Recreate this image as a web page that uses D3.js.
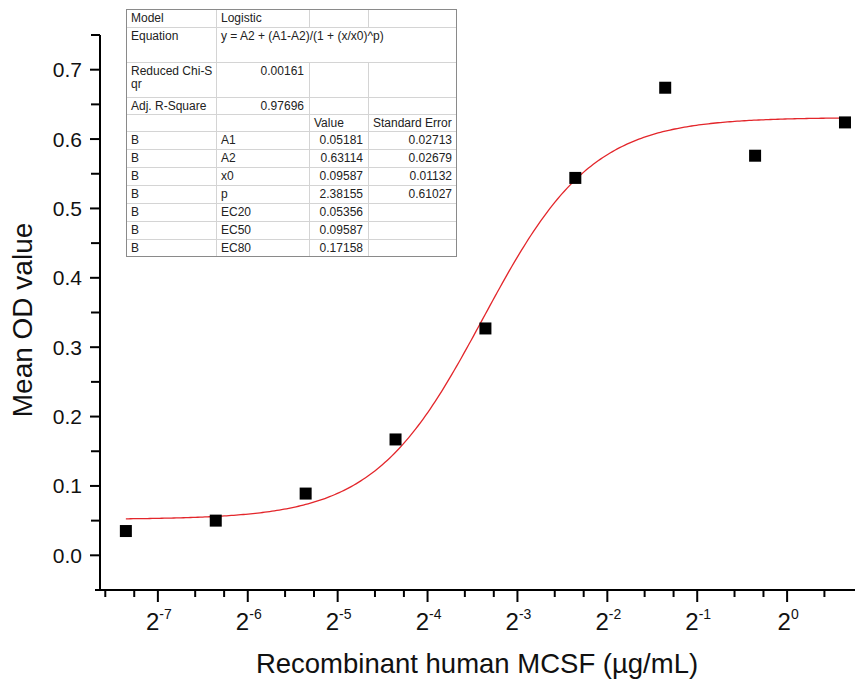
<!DOCTYPE html>
<html>
<head>
<meta charset="utf-8">
<script src="https://cdn.jsdelivr.net/npm/d3@7"></script>
<style>
  html, body { margin: 0; padding: 0; background: #fff; }
  svg { display: block; }
  text { font-family: Arial, "Liberation Sans", sans-serif; }
</style>
</head>
<body>
<svg id="chart" width="855" height="682"></svg>
<script>
// ---------------- data ----------------
const concentrations = [0.006103515625, 0.01220703125, 0.0244140625, 0.048828125, 0.09765625, 0.1953125, 0.390625, 0.78125, 1.5625];
const meanOD = [0.035, 0.050, 0.089, 0.167, 0.327, 0.544, 0.674, 0.576, 0.624];

// fit parameters as printed in the chart's table
const fitA1 = 0.05181;
const fitA2 = 0.63114;
const fitX0 = 0.09587;
const fitP = 2.38155;

const yMajorTicks = [0.0, 0.1, 0.2, 0.3, 0.4, 0.5, 0.6, 0.7];
const yMinorTicks = [0.05, 0.15, 0.25, 0.35, 0.45, 0.55, 0.65, 0.75];
const yTickLabels = ["0.0", "0.1", "0.2", "0.3", "0.4", "0.5", "0.6", "0.7"];
const xMajorExponents = [-7, -6, -5, -4, -3, -2, -1, 0];
const xMinorFactors = [4 / 3, 5 / 3];
const xMinorExponents = [-8, -7, -6, -5, -4, -3, -2, -1, 0];

const xTitle = "Recombinant human MCSF (\u00b5g/mL)";
const yTitle = "Mean OD value";

const tableRows = [
  { cells: [["Model"], ["Logistic"], [""], [""]], align: ["l", "l", "l", "l"] },
  { cells: [["Equation"], ["y = A2 + (A1-A2)/(1 + (x/x0)^p)"]], align: ["l", "l"], merged: true },
  { cells: [["Reduced Chi-S", "qr"], ["0.00161"], [""], [""]], align: ["l", "r", "l", "l"] },
  { cells: [["Adj. R-Square"], ["0.97696"], [""], [""]], align: ["l", "r", "l", "l"] },
  { cells: [[""], [""], ["Value"], ["Standard Error"]], align: ["l", "l", "l", "l"] },
  { cells: [["B"], ["A1"], ["0.05181"], ["0.02713"]], align: ["l", "l", "r", "r"] },
  { cells: [["B"], ["A2"], ["0.63114"], ["0.02679"]], align: ["l", "l", "r", "r"] },
  { cells: [["B"], ["x0"], ["0.09587"], ["0.01132"]], align: ["l", "l", "r", "r"] },
  { cells: [["B"], ["p"], ["2.38155"], ["0.61027"]], align: ["l", "l", "r", "r"] },
  { cells: [["B"], ["EC20"], ["0.05356"], [""]], align: ["l", "l", "r", "r"] },
  { cells: [["B"], ["EC50"], ["0.09587"], [""]], align: ["l", "l", "r", "r"] },
  { cells: [["B"], ["EC80"], ["0.17158"], [""]], align: ["l", "l", "r", "r"] }
];

// ---------------- layout ----------------
const svg = d3.select("#chart");
const plotLeft = 100, plotTop = 35, plotBottom = 590;

const x = d3.scaleLog().base(2).domain([0.005, 2]).range([100, 877]);
const y = d3.scaleLinear().domain([-0.05, 0.75]).range([plotBottom, plotTop]);

// ---------------- fit curve ----------------
const logistic = v => fitA2 + (fitA1 - fitA2) / (1 + Math.pow(v / fitX0, fitP));
const lo = Math.log2(d3.min(concentrations)), hi = Math.log2(d3.max(concentrations));
const xs = d3.range(0, 301).map(i => Math.pow(2, lo + (hi - lo) * i / 300));
svg.append("path")
  .datum(xs)
  .attr("fill", "none")
  .attr("stroke", "#e3262b")
  .attr("stroke-width", 1.3)
  .attr("d", d3.line().x(d => x(d)).y(d => y(logistic(d))));

// ---------------- points ----------------
const sq = 12;
svg.append("g").selectAll("rect")
  .data(concentrations.map((c, i) => ({ c, v: meanOD[i] })))
  .join("rect")
  .attr("x", d => x(d.c) - sq / 2)
  .attr("y", d => y(d.v) - sq / 2)
  .attr("width", sq)
  .attr("height", sq)
  .attr("fill", "#000");

// ---------------- axes ----------------
const axisG = svg.append("g").attr("stroke", "#000").attr("stroke-width", 2);
axisG.append("line").attr("x1", plotLeft).attr("x2", plotLeft).attr("y1", plotTop).attr("y2", plotBottom + 1);
axisG.append("line").attr("x1", plotLeft - 5).attr("x2", 855).attr("y1", plotBottom).attr("y2", plotBottom);

axisG.selectAll(".ymaj").data(yMajorTicks).join("line")
  .attr("x1", plotLeft - 10).attr("x2", plotLeft)
  .attr("y1", d => y(d)).attr("y2", d => y(d));
axisG.selectAll(".ymin").data(yMinorTicks).join("line")
  .attr("x1", plotLeft - 9).attr("x2", plotLeft)
  .attr("y1", d => y(d)).attr("y2", d => y(d));

svg.append("g").selectAll("text").data(yMajorTicks).join("text")
  .attr("x", 82)
  .attr("y", d => y(d) + 7.5)
  .attr("text-anchor", "end")
  .attr("font-size", 21)
  .attr("fill", "#111")
  .text((d, i) => yTickLabels[i]);

const xMajor = xMajorExponents.map(e => Math.pow(2, e));
const xMinor = [];
xMinorExponents.forEach(e => xMinorFactors.forEach(f => {
  const v = Math.pow(2, e) * f;
  if (v >= x.domain()[0] && x(v) <= 850) xMinor.push(v);
}));
const xTicks = svg.append("g").attr("stroke", "#000").attr("stroke-width", 2);
xTicks.selectAll(".xmaj").data(xMajor).join("line")
  .attr("x1", d => x(d)).attr("x2", d => x(d))
  .attr("y1", plotBottom).attr("y2", plotBottom + 12);
xTicks.selectAll(".xmin").data(xMinor).join("line")
  .attr("x1", d => x(d)).attr("x2", d => x(d))
  .attr("y1", plotBottom).attr("y2", plotBottom + 7);

const xLab = svg.append("g").selectAll("text").data(xMajorExponents).join("text")
  .attr("x", e => x(Math.pow(2, e)) + 1)
  .attr("y", 630)
  .attr("text-anchor", "middle")
  .attr("fill", "#111");
xLab.append("tspan").attr("font-size", 24).text("2");
xLab.append("tspan").attr("font-size", 14).attr("dy", -11).text(e => String(e));

// titles
svg.append("text")
  .attr("x", 477)
  .attr("y", 673)
  .attr("text-anchor", "middle")
  .attr("font-size", 27.5)
  .attr("fill", "#111")
  .text(xTitle);

svg.append("text")
  .attr("transform", "translate(32,320) rotate(-90)")
  .attr("text-anchor", "middle")
  .attr("font-size", 28)
  .attr("fill", "#111")
  .text(yTitle);

// ---------------- table ----------------
const colX = [126, 216, 309, 368, 457];
const rowY = [9, 27, 62, 97, 114, 131, 149, 167, 185, 203, 221, 239, 257];
const tbl = svg.append("g");
tbl.append("rect")
  .attr("x", colX[0]).attr("y", rowY[0])
  .attr("width", colX[4] - colX[0]).attr("height", rowY[rowY.length - 1] - rowY[0])
  .attr("fill", "#fff");

tbl.selectAll(".hl").data(rowY.slice(1, -1)).join("line")
  .attr("x1", colX[0]).attr("x2", colX[4])
  .attr("y1", d => d + 0.5).attr("y2", d => d + 0.5)
  .attr("stroke", "#d4d4d4").attr("stroke-width", 1);
tableRows.forEach((row, ri) => {
  const inner = row.merged ? [1] : [1, 2, 3];
  inner.forEach(ci => {
    tbl.append("line")
      .attr("x1", colX[ci] + 0.5).attr("x2", colX[ci] + 0.5)
      .attr("y1", rowY[ri]).attr("y2", rowY[ri + 1])
      .attr("stroke", "#d4d4d4").attr("stroke-width", 1);
  });
});
tbl.append("rect")
  .attr("x", colX[0] + 0.5).attr("y", rowY[0] + 0.5)
  .attr("width", colX[4] - colX[0] - 1).attr("height", rowY[rowY.length - 1] - rowY[0] - 1)
  .attr("fill", "none").attr("stroke", "#8a8a8a").attr("stroke-width", 1);

tableRows.forEach((row, ri) => {
  row.cells.forEach((lines, ci) => {
    const right = row.align[ci] === "r";
    const xPos = right ? colX[ci + 1] - 5 : colX[ci] + 5;
    lines.forEach((ln, li) => {
      if (!ln) return;
      tbl.append("text")
        .attr("x", xPos)
        .attr("y", rowY[ri] + 13 + li * 13)
        .attr("text-anchor", right ? "end" : "start")
        .attr("font-size", 12)
        .attr("fill", "#222")
        .text(ln);
    });
  });
});
</script>
</body>
</html>
